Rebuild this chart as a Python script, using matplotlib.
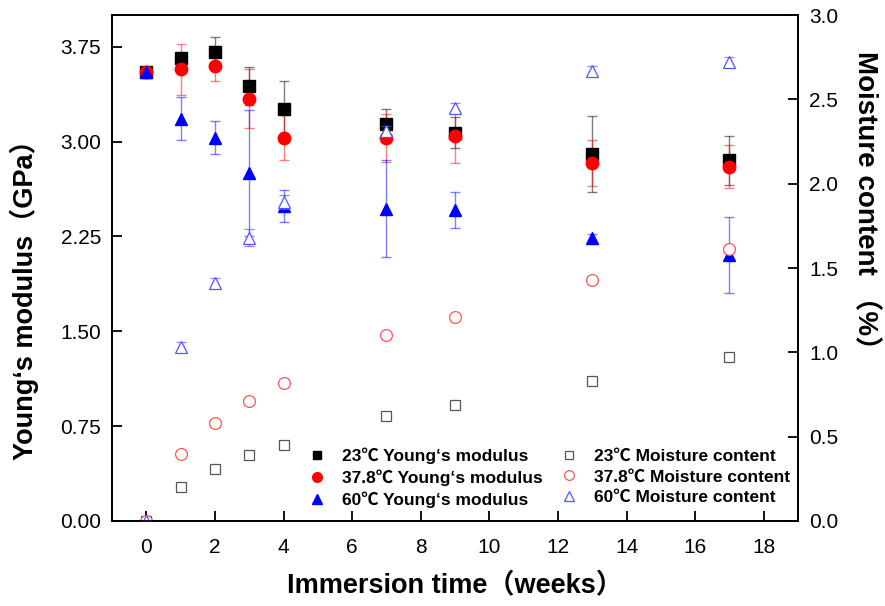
import numpy as np
import matplotlib
matplotlib.use('Agg')
from matplotlib import pyplot as plt
from matplotlib.lines import Line2D

plt.rcParams['font.family'] = ['Liberation Sans', 'Noto Sans CJK SC', 'DejaVu Sans']

# semaines d'immersion
weeks = [0, 1, 2, 3, 4, 7, 9, 13, 17]

# module d'Young (GPa) et ecarts-types
E_23 = [3.55, 3.66, 3.71, 3.44, 3.26, 3.14, 3.07, 2.90, 2.85]
E_23_err = [0.02, 0.03, 0.12, 0.15, 0.22, 0.12, 0.12, 0.30, 0.19]
E_37 = [3.55, 3.57, 3.60, 3.34, 3.03, 3.03, 3.04, 2.83, 2.80]
E_37_err = [0.02, 0.20, 0.12, 0.23, 0.18, 0.19, 0.21, 0.18, 0.17]
E_60 = [3.55, 3.18, 3.03, 2.75, 2.49, 2.47, 2.46, 2.24, 2.10]
E_60_err = [0.02, 0.17, 0.13, 0.50, 0.13, 0.38, 0.14, 0.03, 0.30]

# teneur en eau (%)
M_23 = [0.0, 0.20, 0.31, 0.39, 0.45, 0.62, 0.69, 0.83, 0.97]
M_23_err = [0.0, 0.02, 0.02, 0.02, 0.02, 0.01, 0.01, 0.01, 0.02]
M_37 = [0.0, 0.40, 0.58, 0.71, 0.82, 1.10, 1.21, 1.43, 1.61]
M_37_err = [0.0, 0.02, 0.02, 0.02, 0.02, 0.02, 0.02, 0.02, 0.02]
M_60 = [0.0, 1.03, 1.41, 1.68, 1.89, 2.31, 2.45, 2.67, 2.72]
M_60_err = [0.0, 0.03, 0.03, 0.05, 0.04, 0.03, 0.03, 0.03, 0.03]

labels_E = ['23℃ Young‘s modulus', '37.8℃ Young‘s modulus', '60℃ Young‘s modulus']
labels_M = ['23℃ Moisture content', '37.8℃ Moisture content', '60℃ Moisture content']

fig = plt.figure(figsize=(8.85, 6.06), dpi=100)
ax = fig.add_axes([0.1266, 0.1403, 0.7751, 0.8349])
ax2 = ax.twinx()

handles = []
for y, e, col, mk, ms, lms, lab in [(E_23, E_23_err, 'black', 's', 8, 6, labels_E[0]),
                                    (E_37, E_37_err, 'red', 'o', 9, 7, labels_E[1]),
                                    (E_60, E_60_err, 'blue', '^', 9, 7.5, labels_E[2])]:
    ax.errorbar(weeks, y, yerr=e, fmt=mk, color=col, ms=ms, mec=col,
                ecolor=matplotlib.colors.to_rgba(col, 0.5), elinewidth=1,
                capsize=3.5, capthick=1)
    handles.append(Line2D([], [], ls='none', marker=mk, ms=lms, color=col, mec=col, label=lab))

for y, e, col, mk, ms, lms, lab in [(M_23, M_23_err, '#555555', 's', 7.5, 6, labels_M[0]),
                                    (M_37, M_37_err, '#ff5555', 'o', 8.5, 7, labels_M[1]),
                                    (M_60, M_60_err, '#5555ff', '^', 9, 7.5, labels_M[2])]:
    ax2.errorbar(weeks, y, yerr=e, fmt=mk, ms=ms, mfc='white', mec=col, mew=0.9,
                 ecolor=matplotlib.colors.to_rgba(col, 0.7), elinewidth=1,
                 capsize=3.5, capthick=1)
    handles.append(Line2D([], [], ls='none', marker=mk, ms=lms, mfc='white', mec=col,
                          mew=0.9, label=lab))

ax.set_xlim(-1, 19)
ax.set_ylim(0, 4)
ax2.set_ylim(0, 3)
ax.set_xticks(np.arange(0, 19, 2))
ax.set_yticks([0, 0.75, 1.5, 2.25, 3.0, 3.75])
ax.set_yticklabels(['0.00', '0.75', '1.50', '2.25', '3.00', '3.75'])
ax2.set_yticks(np.arange(0, 3.01, 0.5))
ax2.set_yticklabels(['%.1f' % v for v in np.arange(0, 3.01, 0.5)])

for a in (ax, ax2):
    a.tick_params(direction='in', length=7, width=1.3, labelsize=15)
    for s in a.spines.values():
        s.set_linewidth(1.3)
ax.tick_params(axis='y', pad=8)
ax2.tick_params(axis='y', pad=8)
ax.tick_params(axis='x', pad=12)

ax.set_xlabel('Immersion time（weeks）', fontsize=19.5, fontweight='bold', labelpad=11)
ax.set_ylabel('Young‘s modulus（GPa）', fontsize=19.5, fontweight='bold')
ax.yaxis.set_label_coords(-0.106, 0.45)
ax2.set_ylabel('Moisture content （%）', fontsize=20, fontweight='bold', rotation=270)
ax2.yaxis.set_label_coords(1.118, 0.62)

ax2.legend(handles=handles, ncol=2, loc='upper left', bbox_to_anchor=(0.273, 0.162),
           frameon=False, prop={'size': 12.5, 'weight': 'bold'}, borderpad=0,
           handlelength=1.0, handletextpad=0.95, columnspacing=1.0, labelspacing=0.3)

fig.savefig('out.png', dpi=100)
